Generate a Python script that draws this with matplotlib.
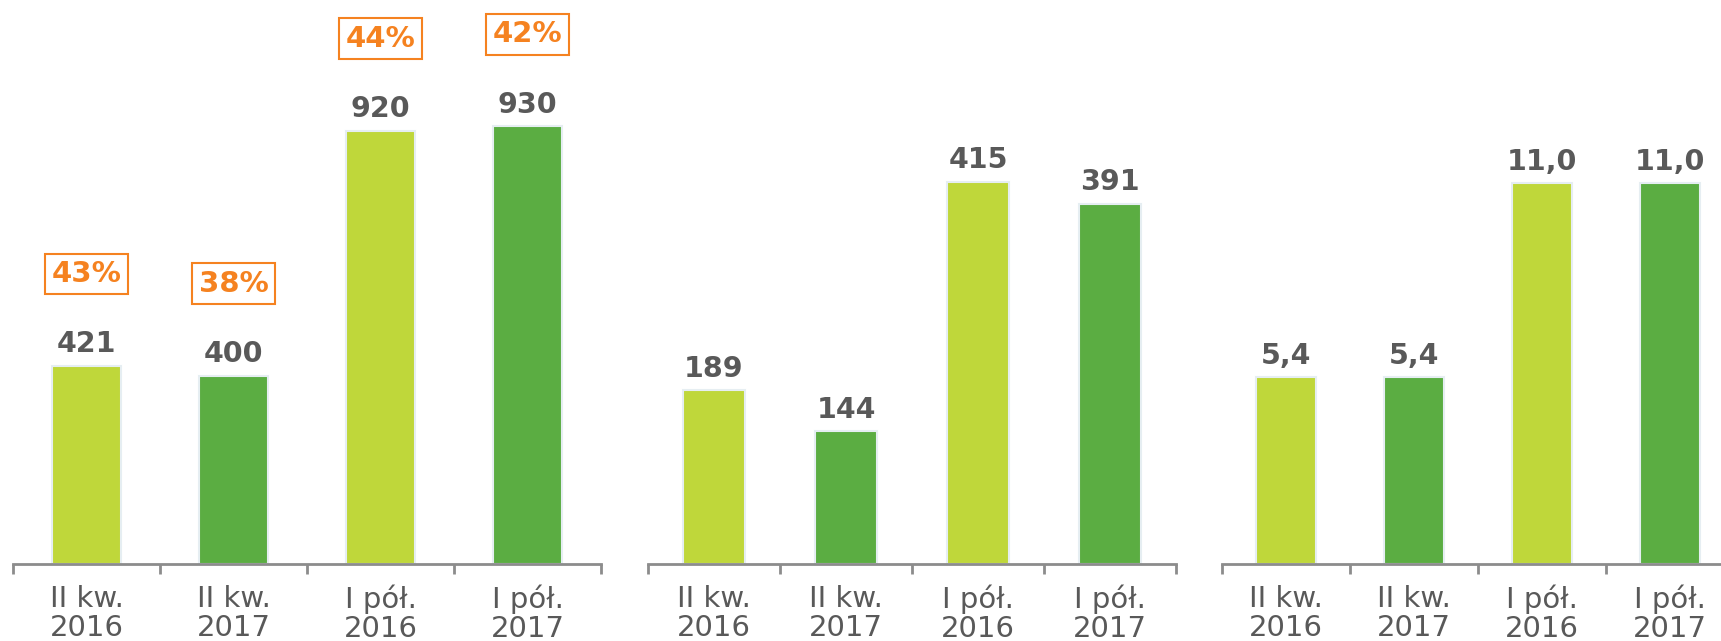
import numpy as np
import matplotlib.pyplot as plt

# data
categories = ['II kw.\n2016', 'II kw.\n2017', 'I pół.\n2016', 'I pół.\n2017']
values_1 = [421, 400, 920, 930]
shares_1 = [43, 38, 44, 42]
values_2 = [189, 144, 415, 391]
values_3 = [5.4, 5.4, 11.0, 11.0]

light_green = '#BFD73A'
dark_green = '#5BAD42'
orange = '#F58220'
grey_text = '#595959'
colors = [light_green, dark_green, light_green, dark_green]

fig = plt.figure(figsize=(17.21, 6.41), dpi=100)

# axes positions in figure fractions (left, bottom, width, height)
panels = [
    (values_1, [0.00755, 0.1201, 0.3417, 0.8799], 1197, '{:.0f}'),
    (values_2, [0.37653, 0.1201, 0.3068, 0.8799], 612, '{:.0f}'),
    (values_3, [0.71005, 0.1201, 0.2975, 0.8799], 16.3, '{:.1f}'),
]

axes = []
for vals, pos, ytop, fmt in panels:
    ax = fig.add_axes(pos)
    x = np.arange(len(categories))
    ax.bar(x, vals, width=0.47, color=colors, edgecolor='#E6EEF2', linewidth=1.5)
    ax.set_xlim(-0.5, len(categories) - 0.5)
    ax.set_ylim(0, ytop)

    for xi, v in zip(x, vals):
        ax.annotate(fmt.format(v).replace('.', ','), (xi, v), xytext=(0, 9.5),
                    textcoords='offset points', ha='center', va='baseline',
                    fontsize=20.5, fontweight='bold', color=grey_text)

    for s in ['top', 'right', 'left']:
        ax.spines[s].set_visible(False)
    ax.spines['bottom'].set_color('#8C8C8C')
    ax.spines['bottom'].set_linewidth(2)
    ax.set_yticks([])
    ax.set_xticks(x)
    ax.set_xticklabels(categories, fontsize=21, color=grey_text, linespacing=1.03)
    ax.tick_params(axis='x', which='major', length=0, pad=15)
    ax.set_xticks(np.arange(len(categories) + 1) - 0.5, minor=True)
    ax.tick_params(axis='x', which='minor', length=7, width=2, color='#8C8C8C')
    ax.patch.set_alpha(0)
    axes.append(ax)

# percentage boxes on the first panel
ax1 = axes[0]
for xi, v, s in zip(np.arange(len(categories)), values_1, shares_1):
    ax1.annotate(f'{s}%', (xi, v), xytext=(0, 66), textcoords='offset points',
                 ha='center', va='center', fontsize=21, fontweight='bold', color=orange,
                 bbox=dict(boxstyle='square,pad=0.22', fc='white', ec=orange, lw=1.5))

plt.savefig('out.png', dpi=100)
